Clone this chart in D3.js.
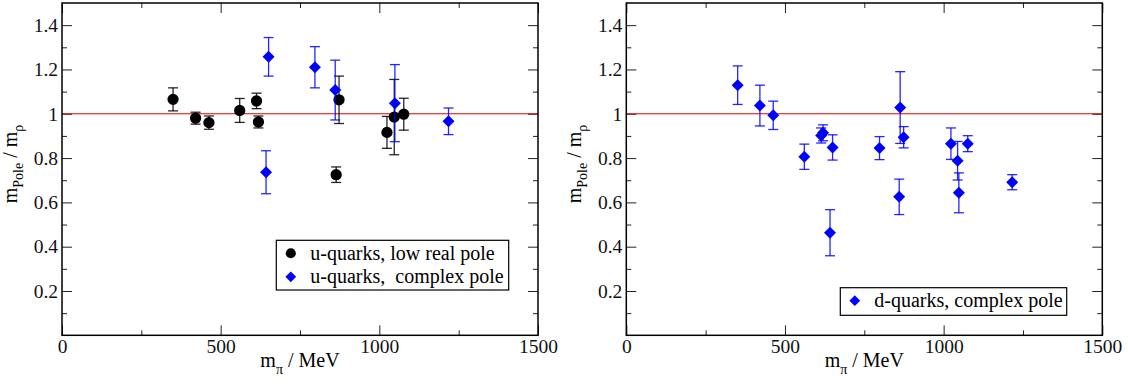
<!DOCTYPE html>
<html>
<head>
<meta charset="utf-8">
<script src="https://cdn.jsdelivr.net/npm/d3@7"></script>
<style>
  body { margin: 0; background: #fff; }
  svg { display: block; font-family: "Liberation Serif", "DejaVu Serif", serif; }
</style>
</head>
<body>
<svg id="chart" width="1128" height="387"></svg>
<script>
// x / y tick values and labels
const xTicks = [0, 500, 1000, 1500];
const xMinor = [250, 750, 1250];
const yTicks = [0.2, 0.4, 0.6, 0.8, 1, 1.2, 1.4];
const yTickLabels = ['0.2', '0.4', '0.6', '0.8', '1', '1.2', '1.4'];
const yMinor = [0.1, 0.3, 0.5, 0.7, 0.9, 1.1, 1.3];

// u-quarks, low real pole
const uRealMpi = [350, 421, 463, 560, 613, 619, 873, 864, 1024, 1047, 1077];
const uRealRatio = [1.065, 0.980, 0.960, 1.015, 1.058, 0.963, 1.063, 0.725, 0.916, 0.985, 0.998];
const uRealErr = [0.052, 0.027, 0.030, 0.054, 0.035, 0.027, 0.107, 0.035, 0.072, 0.170, 0.072];

// u-quarks, complex pole
const uCplxMpi = [651, 643, 797, 861, 1049, 1218];
const uCplxRatio = [1.257, 0.736, 1.210, 1.107, 1.048, 0.966];
const uCplxErr = [0.087, 0.097, 0.093, 0.135, 0.174, 0.060];

// d-quarks, complex pole
const dCplxMpi = [351, 421, 463, 561, 614, 620, 650, 642, 798, 863, 874, 860, 1023, 1044, 1048, 1076, 1216];
const dCplxRatio = [1.129, 1.037, 0.993, 0.806, 0.902, 0.914, 0.848, 0.463, 0.845, 1.028, 0.894, 0.625, 0.865, 0.788, 0.643, 0.865, 0.691];
const dCplxErr = [0.087, 0.092, 0.064, 0.057, 0.034, 0.036, 0.057, 0.104, 0.052, 0.162, 0.048, 0.080, 0.071, 0.087, 0.090, 0.036, 0.034];

const svg = d3.select('#chart');
const plotW = 476, plotH = 332.3, plotTop = 3;
const serif = '"Liberation Serif", "Times New Roman", serif';

function drawPanel(left, series, legend) {
  const g = svg.append('g').attr('transform', `translate(${left},${plotTop})`);
  const x = d3.scaleLinear().domain([0, 1500]).range([0, plotW]);
  const y = d3.scaleLinear().domain([0, 1.5]).range([plotH, 0]);

  // ticks, all pointing inward
  const addAxis = (axis, tx, ty) => {
    const a = g.append('g').attr('transform', `translate(${tx},${ty})`).call(axis)
      .attr('font-family', serif).attr('font-size', 19.5);
    a.select('.domain').remove();
    a.selectAll('line').attr('stroke', '#222').attr('stroke-width', 1);
    a.selectAll('text').attr('fill', '#111');
    return a;
  };
  addAxis(d3.axisBottom(x).tickValues(xTicks).tickSizeInner(-10).tickSizeOuter(0).tickPadding(4)
    .tickFormat(d3.format('d')), 0, plotH);
  addAxis(d3.axisBottom(x).tickValues(xMinor).tickSizeInner(-5).tickSizeOuter(0).tickFormat(''), 0, plotH);
  addAxis(d3.axisTop(x).tickValues(xTicks).tickSizeInner(-10).tickSizeOuter(0).tickFormat(''), 0, 0);
  addAxis(d3.axisTop(x).tickValues(xMinor).tickSizeInner(-5).tickSizeOuter(0).tickFormat(''), 0, 0);
  addAxis(d3.axisLeft(y).tickValues(yTicks).tickSizeInner(-10).tickSizeOuter(0).tickPadding(4)
    .tickFormat((d, i) => yTickLabels[i]), 0, 0);
  addAxis(d3.axisLeft(y).tickValues(yMinor).tickSizeInner(-5).tickSizeOuter(0).tickFormat(''), 0, 0);
  addAxis(d3.axisRight(y).tickValues(yTicks).tickSizeInner(-10).tickSizeOuter(0).tickFormat(''), plotW, 0);
  addAxis(d3.axisRight(y).tickValues(yMinor).tickSizeInner(-5).tickSizeOuter(0).tickFormat(''), plotW, 0);

  // reference line at 1
  g.append('line')
    .attr('x1', 0).attr('x2', plotW)
    .attr('y1', y(1)).attr('y2', y(1))
    .attr('stroke', '#e00000').attr('stroke-width', 1);

  series.forEach(s => {
    const pts = s.mpi.map((m, i) => ({ m, r: s.ratio[i], e: s.err[i] }));
    const eb = g.append('g').attr('stroke', s.color).attr('stroke-width', 1.3).attr('stroke-opacity', s.barOpacity);
    pts.forEach(p => {
      const cx = x(p.m);
      eb.append('line').attr('x1', cx).attr('x2', cx).attr('y1', y(p.r + p.e)).attr('y2', y(p.r - p.e));
      eb.append('line').attr('x1', cx - 5).attr('x2', cx + 5).attr('y1', y(p.r + p.e)).attr('y2', y(p.r + p.e));
      eb.append('line').attr('x1', cx - 5).attr('x2', cx + 5).attr('y1', y(p.r - p.e)).attr('y2', y(p.r - p.e));
    });
    g.append('g').selectAll('path').data(pts).enter().append('path')
      .attr('d', d3.symbol().type(s.shape).size(s.size))
      .attr('transform', p => `translate(${x(p.m)},${y(p.r)}) rotate(${s.rot})`)
      .attr('fill', s.color);
  });

  // frame
  g.append('rect').attr('width', plotW).attr('height', plotH)
    .attr('fill', 'none').attr('stroke', '#000').attr('stroke-width', 1.5);

  // axis titles
  const xt = g.append('text').attr('x', plotW / 2).attr('y', 364).attr('text-anchor', 'middle')
    .attr('font-family', serif).style('font-size', '20px');
  xt.append('tspan').text('m');
  xt.append('tspan').attr('dy', 7).style('font-size', '14px').text('π');
  xt.append('tspan').attr('dy', -7).text(' / MeV');

  const yt = g.append('text').attr('transform', `translate(${-45},${161}) rotate(-90)`)
    .attr('text-anchor', 'middle').attr('font-family', serif).style('font-size', '20px');
  yt.append('tspan').text('m');
  yt.append('tspan').attr('dy', 6).style('font-size', '14px').text('Pole');
  yt.append('tspan').attr('dy', -6).text(' / m');
  yt.append('tspan').attr('dy', 6).style('font-size', '14px').text('ρ');

  // legend
  const lg = g.append('g').attr('transform', `translate(${legend.x},${legend.y})`);
  lg.append('rect').attr('width', legend.w).attr('height', legend.h)
    .attr('fill', '#fff').attr('stroke', '#000').attr('stroke-width', 1.2);
  series.forEach((s, i) => {
    const ly = 13 + i * 23.5;
    lg.append('path').attr('d', d3.symbol().type(s.shape).size(s.size * 0.8))
      .attr('transform', `translate(14.5,${ly}) rotate(${s.rot})`).attr('fill', s.color);
    lg.append('text').attr('x', 34).attr('y', ly + 6.5).attr('font-family', serif).style('font-size', '20px')
      .attr('xml:space', 'preserve').style('white-space', 'pre').text(s.label);
  });
}

const circle = { shape: d3.symbolCircle, size: 100, rot: 0, color: '#000', barOpacity: 0.85 };
const diamond = { shape: d3.symbolSquare, size: 72, rot: 45, color: '#0000ff', barOpacity: 0.85 };

drawPanel(62, [
  Object.assign({}, circle, { mpi: uRealMpi, ratio: uRealRatio, err: uRealErr, label: 'u-quarks, low real pole' }),
  Object.assign({}, diamond, { mpi: uCplxMpi, ratio: uCplxRatio, err: uCplxErr, label: 'u-quarks,  complex pole' })
], { x: 214.3, y: 237.3, w: 232.4, h: 49.7 });

drawPanel(626.3, [
  Object.assign({}, diamond, { mpi: dCplxMpi, ratio: dCplxRatio, err: dCplxErr, label: 'd-quarks, complex pole' })
], { x: 214, y: 284.7, w: 226.4, h: 27.6 });
</script>
</body>
</html>
